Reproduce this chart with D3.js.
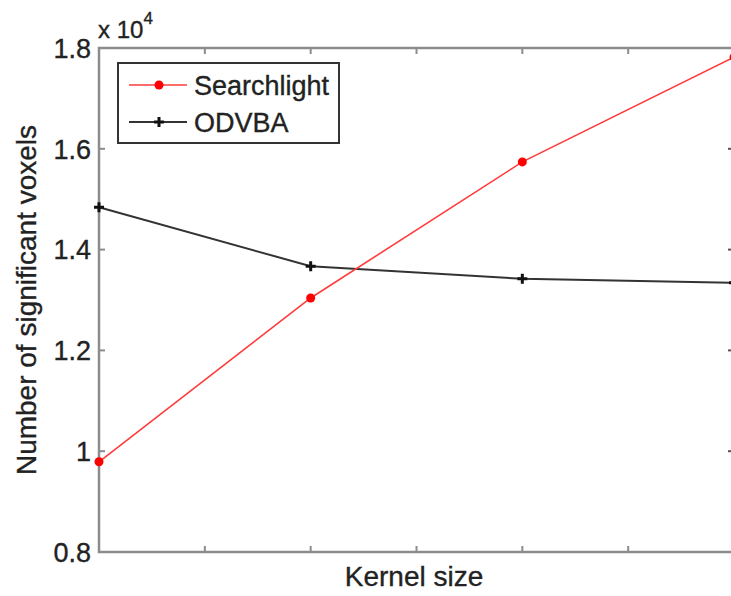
<!DOCTYPE html>
<html>
<head>
<meta charset="utf-8">
<script src="https://cdn.jsdelivr.net/npm/d3@7"></script>
<style>
  body { margin: 0; background: #fff; overflow: hidden; }
  svg { display: block; }
  text { stroke: #222; stroke-width: 0.35px; }
</style>
</head>
<body>
<svg id="chart"></svg>
<script>
const kernelSizes = [1, 2, 3, 4];
const searchlight = [9790, 13040, 15740, 17820];
const odvba = [14840, 13670, 13420, 13340];
const yTicks = [8000, 10000, 12000, 14000, 16000, 18000];
const xTicks = [1, 1.5, 2, 2.5, 3, 3.5, 4];
const seriesNames = ["Searchlight", "ODVBA"];

const svgWidth = 731;
const svgHeight = 596;
// the right edge of the plot box sits just past the picture's edge
const margin = { top: 48, right: -3, bottom: 44, left: 99 };

const svg = d3.select("#chart")
    .attr("width", svgWidth)
    .attr("height", svgHeight)
    .style("font-family", "'Liberation Sans', Arial, sans-serif");

const width = svgWidth - margin.left - margin.right;
const height = svgHeight - margin.top - margin.bottom;

const g = svg.append("g").attr("transform", `translate(${margin.left},${margin.top})`);

const xScale = d3.scaleLinear().domain([1, 4]).range([0, width]);
const yScale = d3.scaleLinear().domain([8000, 18000]).range([height, 0]);

const axisColor = "#8c8c8c";
const textColor = "#222";

// box and inward ticks on all four sides
g.append("rect")
    .attr("width", width)
    .attr("height", height)
    .attr("fill", "none")
    .attr("stroke", axisColor)
    .attr("stroke-width", 2.5);

const tickLen = 6;
g.selectAll(".xt-bottom")
    .data(xTicks.slice(1, -1))
    .enter().append("line")
    .attr("x1", d => xScale(d)).attr("x2", d => xScale(d))
    .attr("y1", height).attr("y2", height - tickLen)
    .attr("stroke", axisColor).attr("stroke-width", 2);

g.selectAll(".xt-top")
    .data(xTicks.slice(1, -1))
    .enter().append("line")
    .attr("x1", d => xScale(d)).attr("x2", d => xScale(d))
    .attr("y1", 0).attr("y2", tickLen)
    .attr("stroke", axisColor).attr("stroke-width", 2);

g.selectAll(".yt-left")
    .data(yTicks.slice(1, -1))
    .enter().append("line")
    .attr("x1", 0).attr("x2", tickLen)
    .attr("y1", d => yScale(d)).attr("y2", d => yScale(d))
    .attr("stroke", axisColor).attr("stroke-width", 2);

g.selectAll(".yt-right")
    .data(yTicks.slice(1, -1))
    .enter().append("line")
    .attr("x1", width).attr("x2", width - tickLen)
    .attr("y1", d => yScale(d)).attr("y2", d => yScale(d))
    .attr("stroke", "#555").attr("stroke-width", 2);

// y tick labels
g.selectAll(".ylabel")
    .data(yTicks)
    .enter().append("text")
    .attr("x", -8)
    .attr("y", d => yScale(d))
    .attr("dy", "0.36em")
    .attr("text-anchor", "end")
    .style("font-size", "27px")
    .style("fill", textColor)
    .text(d => d3.format("~g")(d / 10000));

// exponent
const expo = svg.append("text")
    .attr("x", 98)
    .attr("y", 38)
    .style("font-size", "24px")
    .style("fill", textColor);
expo.append("tspan").text("x 10");
expo.append("tspan").attr("dy", -14).style("font-size", "17px").text("4");

// axis titles
svg.append("text")
    .attr("x", 414)
    .attr("y", 586)
    .attr("text-anchor", "middle")
    .style("font-size", "28px")
    .style("fill", textColor)
    .text("Kernel size");

svg.append("text")
    .attr("transform", `translate(36,${margin.top + height / 2}) rotate(-90)`)
    .attr("text-anchor", "middle")
    .style("font-size", "28px")
    .style("fill", textColor)
    .text("Number of significant voxels");

// lines
const line = d3.line()
    .x((d, i) => xScale(kernelSizes[i]))
    .y(d => yScale(d));

g.append("path")
    .datum(odvba)
    .attr("d", line)
    .attr("fill", "none")
    .attr("stroke", "#333")
    .attr("stroke-width", 2);

g.append("path")
    .datum(searchlight)
    .attr("d", line)
    .attr("fill", "none")
    .attr("stroke", "#ff3b3b")
    .attr("stroke-width", 1.6);

g.selectAll(".dot")
    .data(searchlight)
    .enter().append("circle")
    .attr("cx", (d, i) => xScale(kernelSizes[i]))
    .attr("cy", d => yScale(d))
    .attr("r", 4.5)
    .attr("fill", "#ff0000");

function plusPath(x, y, s) {
    return `M${x - s},${y}H${x + s}M${x},${y - s}V${y + s}`;
}

g.selectAll(".plus")
    .data(odvba)
    .enter().append("path")
    .attr("d", (d, i) => plusPath(xScale(kernelSizes[i]), yScale(d), 5))
    .attr("stroke", "#111")
    .attr("stroke-width", 3);

// legend
const legend = svg.append("g").attr("transform", "translate(118,63)");
legend.append("rect")
    .attr("width", 221)
    .attr("height", 80)
    .attr("fill", "#fff")
    .attr("stroke", "#333")
    .attr("stroke-width", 2);

const legendColors = ["#ff3b3b", "#333"];
const legendRows = legend.selectAll(".lrow")
    .data(seriesNames)
    .enter().append("g")
    .attr("transform", (d, i) => `translate(0,${22 + i * 37})`);

legendRows.append("line")
    .attr("x1", 11).attr("x2", 69)
    .attr("stroke", (d, i) => legendColors[i])
    .attr("stroke-width", (d, i) => i === 0 ? 1.6 : 2);

legendRows.filter((d, i) => i === 0).append("circle")
    .attr("cx", 41).attr("r", 4.5).attr("fill", "#ff0000");

legendRows.filter((d, i) => i === 1).append("path")
    .attr("d", plusPath(41, 0, 5))
    .attr("stroke", "#111").attr("stroke-width", 3);

legendRows.append("text")
    .attr("x", 76)
    .attr("dy", "0.36em")
    .style("font-size", "27px")
    .style("fill", textColor)
    .text(d => d);
</script>
</body>
</html>
